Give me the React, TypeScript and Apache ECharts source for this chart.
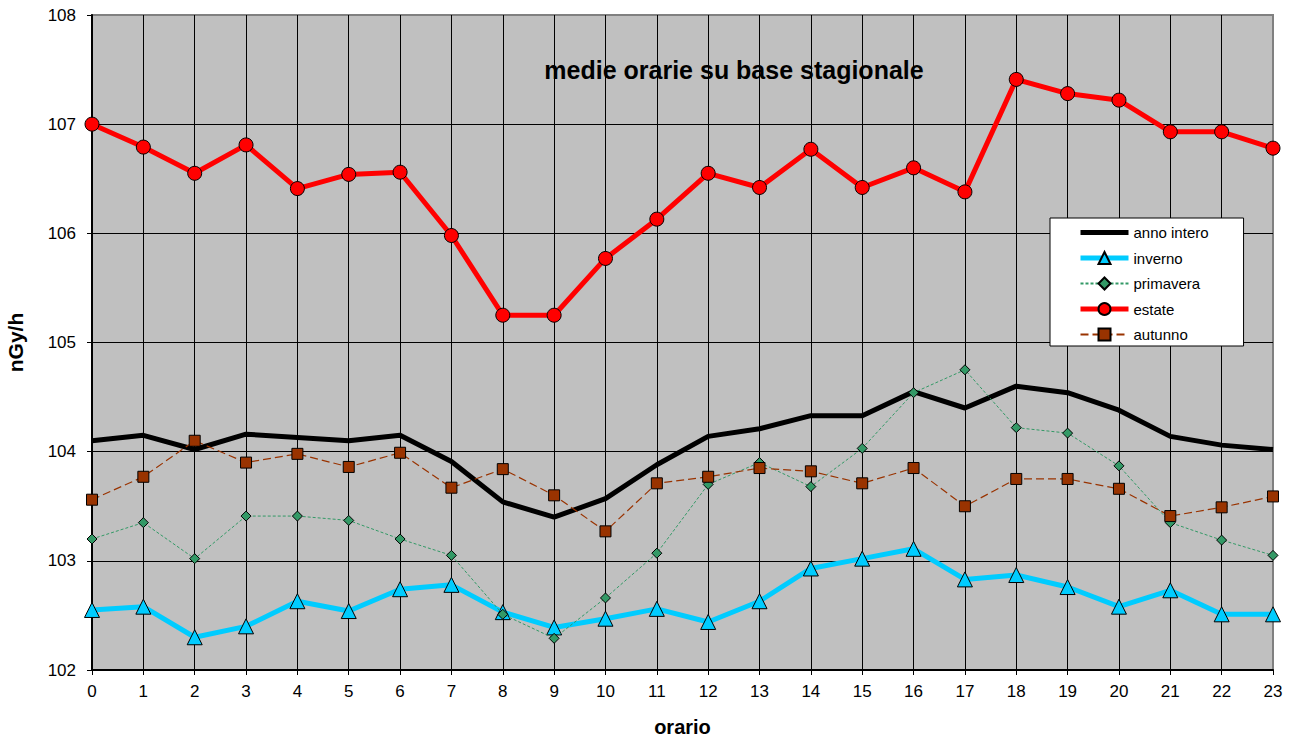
import React, { useEffect, useRef } from "react";
import * as echarts from "echarts";

const hours = Array.from({ length: 24 }, (_, i) => String(i));
const annoIntero = [104.10, 104.15, 104.02, 104.16, 104.13, 104.10, 104.15, 103.91, 103.54, 103.40, 103.57, 103.88, 104.14, 104.21, 104.33, 104.33, 104.55, 104.40, 104.60, 104.54, 104.38, 104.14, 104.06, 104.02];
const inverno = [102.55, 102.58, 102.30, 102.40, 102.63, 102.54, 102.74, 102.78, 102.53, 102.39, 102.47, 102.56, 102.44, 102.63, 102.93, 103.02, 103.11, 102.83, 102.87, 102.76, 102.58, 102.73, 102.51, 102.51];
const primavera = [103.20, 103.35, 103.02, 103.41, 103.41, 103.37, 103.20, 103.05, 102.51, 102.29, 102.66, 103.07, 103.70, 103.90, 103.68, 104.03, 104.54, 104.75, 104.22, 104.17, 103.87, 103.35, 103.19, 103.05];
const estate = [107.00, 106.79, 106.55, 106.81, 106.41, 106.54, 106.56, 105.98, 105.25, 105.25, 105.77, 106.13, 106.55, 106.42, 106.77, 106.42, 106.60, 106.38, 107.41, 107.28, 107.22, 106.93, 106.93, 106.78];
const autunno = [103.56, 103.77, 104.10, 103.90, 103.98, 103.86, 103.99, 103.67, 103.84, 103.60, 103.27, 103.71, 103.77, 103.85, 103.82, 103.71, 103.85, 103.50, 103.75, 103.75, 103.66, 103.41, 103.49, 103.59];

const FONT = "Liberation Sans, Arial, sans-serif";

export default function App() {
  const ref = useRef<HTMLDivElement>(null);
  useEffect(() => {
    if (!ref.current) return;
    const chart = echarts.init(ref.current, null, { renderer: "svg" });
    const xSplitColors = hours.map((_, i) => (i === hours.length - 1 ? "#808080" : "#000"));
    const ySplitColors = ["#000", "#000", "#000", "#000", "#000", "#000", "#808080"];
    chart.setOption({
      animation: false,
      backgroundColor: "#fff",
      textStyle: { fontFamily: FONT },
      title: {
        text: "medie orarie su base stagionale",
        left: 729,
        textAlign: "center",
        top: 52,
        textStyle: { fontFamily: FONT, fontSize: 25, fontWeight: "bold", color: "#000" },
      },
      grid: {
        left: 92,
        top: 15,
        width: 1181,
        height: 655,
        containLabel: false,
        outerBoundsMode: "none",
        show: true,
        backgroundColor: "#C0C0C0",
        borderColor: "#808080",
        borderWidth: 2,
      },
      legend: {
        orient: "vertical",
        left: 1050,
        top: 218,
        backgroundColor: "#fff",
        borderColor: "#000",
        borderWidth: 1,
        borderRadius: 0,
        padding: [7, 35, 4, 28],
        itemWidth: 48,
        itemHeight: 15,
        itemGap: 10.5,
        textStyle: { fontFamily: FONT, fontSize: 15, color: "#000" },
        data: [
          { name: "anno intero", lineStyle: { width: 5 }, itemStyle: { opacity: 0 } },
          { name: "inverno", lineStyle: { width: 5 } },
          { name: "primavera" },
          { name: "estate", lineStyle: { width: 5 } },
          { name: "autunno" },
        ],
      },
      xAxis: {
        type: "category",
        data: hours,
        boundaryGap: false,
        name: "orario",
        nameLocation: "middle",
        nameGap: 47,
        nameTextStyle: { fontFamily: FONT, fontSize: 20, fontWeight: "bold", color: "#000" },
        axisLine: { lineStyle: { color: "#000", width: 2 } },
        axisTick: { show: true, length: 5, lineStyle: { color: "#000" } },
        axisLabel: { fontFamily: FONT, fontSize: 17, color: "#000", margin: 13 },
        splitLine: { show: true, lineStyle: { color: xSplitColors, width: 1 } },
      },
      yAxis: {
        type: "value",
        min: 102,
        max: 108,
        interval: 1,
        name: "nGy/h",
        nameLocation: "middle",
        nameGap: 66,
        nameTextStyle: { fontFamily: FONT, fontSize: 21, fontWeight: "bold", color: "#000" },
        axisLine: { show: true, lineStyle: { color: "#000", width: 2 } },
        axisTick: { show: true, length: 5, lineStyle: { color: "#000" } },
        axisLabel: { fontFamily: FONT, fontSize: 17, color: "#000", margin: 16 },
        splitLine: { show: true, lineStyle: { color: ySplitColors, width: 1 } },
      },
      series: [
        {
          name: "anno intero",
          type: "line",
          data: annoIntero,
          symbol: "none",
          lineStyle: { color: "#000", width: 5 },
          itemStyle: { color: "#000" },
          z: 3,
        },
        {
          name: "inverno",
          type: "line",
          data: inverno,
          symbol: "triangle",
          symbolSize: 15,
          lineStyle: { color: "#00CCFF", width: 5 },
          itemStyle: { color: "#00CCFF", borderColor: "#000", borderWidth: 1 },
          z: 4,
        },
        {
          name: "primavera",
          type: "line",
          data: primavera,
          symbol: "diamond",
          symbolSize: 10,
          lineStyle: { color: "#339966", width: 1, type: [3, 2] },
          itemStyle: { color: "#339966", borderColor: "#000", borderWidth: 1 },
          z: 5,
        },
        {
          name: "estate",
          type: "line",
          data: estate,
          symbol: "circle",
          symbolSize: 14,
          lineStyle: { color: "#FF0000", width: 5 },
          itemStyle: { color: "#FF0000", borderColor: "#000", borderWidth: 1 },
          z: 6,
        },
        {
          name: "autunno",
          type: "line",
          data: autunno,
          symbol: "rect",
          symbolSize: 11,
          lineStyle: { color: "#993300", width: 1.2, type: [8, 4] },
          itemStyle: { color: "#993300", borderColor: "#000", borderWidth: 1 },
          z: 5,
        },
      ],
    });
    return () => chart.dispose();
  }, []);
  return (
    <div
      ref={ref}
      style={{ position: "fixed", left: 0, top: 0, width: 1292, height: 742 }}
    />
  );
}
